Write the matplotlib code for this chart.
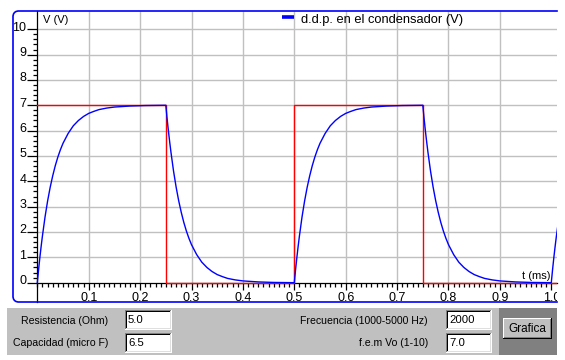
import matplotlib
matplotlib.use('Agg')
import numpy as np
import matplotlib.pyplot as plt
from matplotlib.patches import Rectangle
from matplotlib.lines import Line2D
from matplotlib.ticker import FixedLocator
from matplotlib.transforms import ScaledTranslation

plt.rcParams['font.family'] = ['Liberation Sans Narrow', 'Liberation Sans', 'DejaVu Sans']

# ---------------- data ----------------
x_ticks = [0.1, 0.2, 0.3, 0.4, 0.5, 0.6, 0.7, 0.8, 0.9, 1.0]
x_tick_labels = ['0.1', '0.2', '0.3', '0.4', '0.5', '0.6', '0.7', '0.8', '0.9', '1.0']
y_ticks = [0, 1, 2, 3, 4, 5, 6, 7, 8, 9, 10]
y_tick_labels = ['0', '1', '2', '3', '4', '5', '6', '7', '8', '9', '10']

# square-wave source voltage (red)
sq_t = [0.0, 0.25, 0.25, 0.50, 0.50, 0.75, 0.75, 1.02]
sq_v = [7.0, 7.0, 0.0, 0.0, 7.0, 7.0, 0.0, 0.0]

# capacitor voltage (blue)
curve_t = [
    0.0, 0.0025, 0.005, 0.0075, 0.01, 0.015, 0.02, 0.025, 0.03, 0.035, 0.04, 0.045,
    0.05, 0.06, 0.07, 0.08, 0.09, 0.10, 0.11, 0.12, 0.135, 0.15, 0.18, 0.21, 0.25,
    0.2525, 0.255, 0.2575, 0.26, 0.265, 0.27, 0.275, 0.28, 0.285, 0.29, 0.295,
    0.30, 0.31, 0.32, 0.33, 0.34, 0.35, 0.36, 0.37, 0.385, 0.40, 0.43, 0.46, 0.50,
    0.5025, 0.505, 0.5075, 0.51, 0.515, 0.52, 0.525, 0.53, 0.535, 0.54, 0.545,
    0.55, 0.56, 0.57, 0.58, 0.59, 0.60, 0.61, 0.62, 0.635, 0.65, 0.68, 0.71, 0.75,
    0.7525, 0.755, 0.7575, 0.76, 0.765, 0.77, 0.775, 0.78, 0.785, 0.79, 0.795,
    0.80, 0.81, 0.82, 0.83, 0.84, 0.85, 0.86, 0.87, 0.885, 0.90, 0.93, 0.96, 1.00,
    1.0025, 1.005, 1.0075, 1.01, 1.015,
]
curve_v = [
    0.00, 0.52, 1.00, 1.44, 1.85, 2.59, 3.22, 3.76, 4.22, 4.62, 4.96, 5.25,
    5.50, 5.89, 6.19, 6.40, 6.56, 6.68, 6.76, 6.83, 6.89, 6.93, 6.97, 6.99, 7.00,
    6.48, 6.00, 5.56, 5.15, 4.41, 3.78, 3.24, 2.78, 2.38, 2.04, 1.75,
    1.50, 1.11, 0.81, 0.60, 0.44, 0.32, 0.24, 0.17, 0.11, 0.07, 0.03, 0.01, 0.00,
    0.52, 1.00, 1.44, 1.85, 2.59, 3.22, 3.76, 4.22, 4.62, 4.96, 5.25,
    5.50, 5.89, 6.19, 6.40, 6.56, 6.68, 6.76, 6.83, 6.89, 6.93, 6.97, 6.99, 7.00,
    6.48, 6.00, 5.56, 5.15, 4.41, 3.78, 3.24, 2.78, 2.38, 2.04, 1.75,
    1.50, 1.11, 0.81, 0.60, 0.44, 0.32, 0.24, 0.17, 0.11, 0.07, 0.03, 0.01, 0.00,
    0.52, 1.00, 1.44, 1.85, 2.59,
]

legend_label = 'd.d.p. en el condensador (V)'
y_axis_title = 'V (V)'
x_axis_title = 't (ms)'

panel_labels_left = ['Resistencia (Ohm)', 'Capacidad (micro F)']
panel_values_left = ['5.0', '6.5']
panel_labels_right = ['Frecuencia (1000-5000 Hz)', 'f.e.m Vo (1-10)']
panel_values_right = ['2000', '7.0']
button_label = 'Grafica'

# ---------------- figure ----------------
W, H = 565, 360
fig = plt.figure(figsize=(W / 100, H / 100), dpi=100)
fig.patch.set_facecolor('white')

XMIN, XMAX = -0.0473, 1.0111
YMIN, YMAX = -0.762, 10.72
L, R, T, B = 13, 557, 11, 302
ax = fig.add_axes([L / W, (H - B) / H, (R - L) / W, (B - T) / H])
ax.set_xlim(XMIN, XMAX)
ax.set_ylim(YMIN, YMAX)
ax.set_facecolor('white')

FS_TICK = 9
FS_CHART = 9.3
FS_TITLE = 8
FS_PANEL = 7.6
grid_c = '#c0c0c0'
ax.vlines(x_ticks[:-1], 0, YMAX, color=grid_c, lw=1.0, zorder=1)
ax.hlines(y_ticks[1:], 0, XMAX, color=grid_c, lw=1.0, zorder=1)

for s in ['top', 'right']:
    ax.spines[s].set_visible(False)
ax.spines['left'].set_position(('data', 0))
ax.spines['bottom'].set_position(('data', 0))
ax.spines['bottom'].set_bounds(0, XMAX)
for s in ['left', 'bottom']:
    ax.spines[s].set_color('black')
    ax.spines[s].set_linewidth(0.9)
    ax.spines[s].set_zorder(2)

ax.xaxis.set_major_locator(FixedLocator(x_ticks))
ax.set_xticklabels(x_tick_labels)
ax.xaxis.set_minor_locator(FixedLocator(np.arange(0, 1.0001, 0.01)))
ax.yaxis.set_major_locator(FixedLocator(y_ticks))
ax.set_yticklabels(y_tick_labels)
ax.yaxis.set_minor_locator(FixedLocator(np.arange(0, 10.01, 0.2)))
ax.tick_params(axis='x', which='major', direction='out', length=5, width=0.9, pad=2, labelsize=FS_TICK)
ax.tick_params(axis='x', which='minor', direction='out', length=3, width=0.9)
ax.tick_params(axis='y', which='major', direction='out', length=7, width=0.9, pad=1, labelsize=FS_TICK)
ax.tick_params(axis='y', which='minor', direction='out', length=3, width=0.9)
for lab in ax.get_yticklabels():
    lab.set_transform(lab.get_transform() + ScaledTranslation(0, 3 / 100, fig.dpi_scale_trans))
for lab in ax.get_xticklabels():
    lab.set_clip_box(ax.bbox)
    lab.set_clip_on(True)

ax.plot(sq_t, sq_v, color='#ff0000', lw=1.0, zorder=3)
ax.plot(curve_t, curve_v, color='#0000ff', lw=1.0, zorder=4)

# ---------------- pixel overlay ----------------
ov = fig.add_axes([0, 0, 1, 1], zorder=5)
ov.set_xlim(0, W)
ov.set_ylim(H, 0)
ov.axis('off')
ov.patch.set_alpha(0)

# border (rounded on the left)
bx = [R, 18, 16, 14.5, 13.5, 13, 13, 13.5, 14.5, 16, 18, R]
by = [T, T, T + 0.5, T + 1.5, T + 3, T + 5, B - 5, B - 3, B - 1.5, B - 0.5, B, B]
ov.add_line(Line2D(bx, by, color='#0000ff', lw=1.2))

ov.text(43, 20, y_axis_title, fontsize=FS_TITLE, va='center', ha='left')
ov.text(522, 276, x_axis_title, fontsize=FS_TITLE, va='center', ha='left')
ov.add_line(Line2D([282, 294], [17, 17], color='#0000ff', lw=2.6, solid_capstyle='butt'))
ov.text(301, 20, legend_label, fontsize=FS_CHART, va='center', ha='left')

# bottom panel
ov.add_patch(Rectangle((7, 308), 550, 47, facecolor='#c0c0c0', edgecolor='none'))
ov.add_patch(Rectangle((499, 308), 58, 47, facecolor='#808080', edgecolor='none'))


def sunken(x, y, w, h):
    for (dx, dy, dw, dh, c) in [(0, 0, w, h, '#ffffff'), (0, 0, w - 1, h - 1, '#808080'),
                                (1, 1, w - 2, h - 2, '#dfdfdf'), (1, 1, w - 3, h - 3, '#000000'),
                                (2, 2, w - 4, h - 4, '#ffffff')]:
        ov.add_patch(Rectangle((x + dx, y + dy), dw, dh, facecolor=c, edgecolor='none',
                               antialiased=False))


def raised(x, y, w, h):
    for (dx, dy, dw, dh, c) in [(0, 0, w, h, '#000000'), (0, 0, w - 1, h - 1, '#ffffff'),
                                (1, 1, w - 2, h - 2, '#808080'), (1, 1, w - 3, h - 3, '#c0c0c0')]:
        ov.add_patch(Rectangle((x + dx, y + dy), dw, dh, facecolor=c, edgecolor='none',
                               antialiased=False))


rows_y = [310, 333]
for i, yy in enumerate(rows_y):
    sunken(125, yy, 47, 20)
    sunken(446, yy, 46, 20)
    ov.text(108, yy + 10.5, panel_labels_left[i], fontsize=FS_PANEL, ha='right', va='center')
    ov.text(128, yy + 10, panel_values_left[i], fontsize=FS_PANEL + 0.6, ha='left', va='center')
    ov.text(428, yy + 10.5, panel_labels_right[i], fontsize=FS_PANEL, ha='right', va='center')
    ov.text(449, yy + 10, panel_values_right[i], fontsize=FS_PANEL + 0.6, ha='left', va='center')

raised(503, 318, 49, 21)
ov.text(527, 328.5, button_label, fontsize=8.5, ha='center', va='center')

fig.savefig('out.png', dpi=100, facecolor='white')
